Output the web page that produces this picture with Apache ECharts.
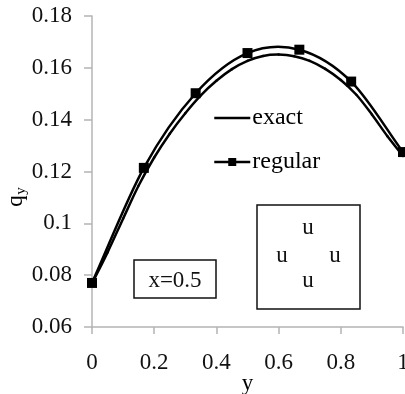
<!DOCTYPE html>
<html>
<head>
<meta charset="utf-8">
<script src="https://cdn.jsdelivr.net/npm/echarts@6/dist/echarts.min.js"></script>
<style>
  html, body { margin: 0; padding: 0; background: #fff; }
  #chart { width: 405px; height: 394px; }
</style>
</head>
<body>
<div id="chart"></div>
<script>
// Position along the line (y) and flux q_y for the exact solution
const exactY = [0, 0.05, 0.1, 0.15, 0.2, 0.25, 0.3, 0.35, 0.4, 0.45, 0.5,
                0.55, 0.6, 0.65, 0.7, 0.75, 0.8, 0.85, 0.9, 0.95, 1];
const exactQ = [0.0768, 0.0888, 0.1018, 0.1146, 0.1254, 0.1346, 0.1425, 0.1494,
                0.1550, 0.1595, 0.1627, 0.1646, 0.1651, 0.1645, 0.1627, 0.1596,
                0.1553, 0.1496, 0.1420, 0.1336, 0.1260];

// Regular grid nodes
const regularY = [0, 0.1667, 0.3333, 0.5, 0.6667, 0.8333, 1];
const regularQ = [0.0770, 0.1214, 0.1502, 0.1657, 0.1670, 0.1547, 0.1275];

const xTicks = [0, 0.2, 0.4, 0.6, 0.8, 1];
const yTicks = [0.06, 0.08, 0.1, 0.12, 0.14, 0.16, 0.18];

const seriesNames = ['exact', 'regular'];
const caseLabel = 'x=0.5';
const stencilLetter = 'u';

const FONT = '"Liberation Serif", "DejaVu Serif", serif';
const AXIS_GRAY = '#b4b4b4';
const LINE_W = 2.5;

const zip = (xs, ys) => xs.map((x, i) => [x, ys[i]]);
const fmt = v => String(parseFloat(v.toFixed(2)));

// Cardinal spline through the nodes; each data item draws the segment to the next node.
// End tangents use a reflected phantom node so the ends run straight.
function splineSegment(xs, ys) {
  return function (params, api) {
    const i = params.dataIndex;
    const n = xs.length;
    if (i >= n - 1) return null;
    const node = k => api.coord([xs[k], ys[k]]);
    const p = k => {
      if (k < 0) { const a = node(0), b = node(1); return [2 * a[0] - b[0], 2 * a[1] - b[1]]; }
      if (k > n - 1) { const a = node(n - 1), b = node(n - 2); return [2 * a[0] - b[0], 2 * a[1] - b[1]]; }
      return node(k);
    };
    const p0 = p(i - 1), p1 = p(i), p2 = p(i + 1), p3 = p(i + 2);
    return {
      type: 'bezierCurve',
      shape: {
        x1: p1[0], y1: p1[1], x2: p2[0], y2: p2[1],
        cpx1: p1[0] + (p2[0] - p0[0]) / 6, cpy1: p1[1] + (p2[1] - p0[1]) / 6,
        cpx2: p2[0] - (p3[0] - p1[0]) / 6, cpy2: p2[1] - (p3[1] - p1[1]) / 6
      },
      style: { stroke: '#000', lineWidth: LINE_W, fill: null, lineCap: 'round' }
    };
  };
}

const chart = echarts.init(document.getElementById('chart'), null, { renderer: 'canvas' });

const letter = (x, y) => ({
  type: 'text', x: x, y: y, z: 11,
  style: { text: stencilLetter, font: '23px ' + FONT, fill: '#111', align: 'center', verticalAlign: 'middle' }
});

chart.setOption({
  animation: false,
  backgroundColor: '#fff',
  grid: { left: 92, right: 2, top: 16, bottom: 67, containLabel: false, outerBoundsMode: 'none' },
  xAxis: {
    type: 'value',
    min: xTicks[0],
    max: xTicks[xTicks.length - 1],
    interval: 0.2,
    name: 'y',
    nameLocation: 'middle',
    nameGap: 45,
    nameMoveOverlap: false,
    nameTextStyle: { fontFamily: FONT, fontSize: 23, color: '#000' },
    axisLine: { show: true, lineStyle: { color: AXIS_GRAY, width: 1.5 } },
    axisTick: { show: true, inside: false, length: 7, lineStyle: { color: AXIS_GRAY, width: 1.5 } },
    axisLabel: { margin: 24, fontFamily: FONT, fontSize: 23, color: '#111', formatter: fmt },
    splitLine: { show: false }
  },
  yAxis: {
    type: 'value',
    min: yTicks[0],
    max: yTicks[yTicks.length - 1],
    interval: 0.02,
    axisLine: { show: true, lineStyle: { color: AXIS_GRAY, width: 1.5 } },
    axisTick: { show: true, inside: false, length: 8, lineStyle: { color: AXIS_GRAY, width: 1.5 } },
    axisLabel: { margin: 20, fontFamily: FONT, fontSize: 23, color: '#111', formatter: fmt },
    splitLine: { show: false }
  },
  legend: {
    orient: 'vertical',
    left: 213,
    top: 106,
    padding: 0,
    itemGap: 20,
    itemWidth: 36,
    itemHeight: 10,
    textStyle: { fontFamily: FONT, fontSize: 24, color: '#000', padding: [0, 0, 0, -3] },
    data: [
      { name: seriesNames[0], itemStyle: { color: 'rgba(0,0,0,0)', opacity: 0 },
        lineStyle: { color: '#000', width: LINE_W, opacity: 1 } },
      { name: seriesNames[1], lineStyle: { color: '#000', width: LINE_W, opacity: 1 } }
    ]
  },
  series: [
    // exact solution: legend entry + curve
    {
      name: seriesNames[0],
      type: 'line',
      data: zip(exactY, exactQ),
      symbol: 'none',
      lineStyle: { opacity: 0 },
      itemStyle: { color: '#000' },
      z: 1
    },
    {
      type: 'custom',
      data: zip(exactY, exactQ),
      encode: { x: 0, y: 1 },
      renderItem: splineSegment(exactY, exactQ),
      z: 2
    },
    // regular grid: markers + legend entry, curve drawn as spline
    {
      name: seriesNames[1],
      type: 'line',
      data: zip(regularY, regularQ),
      symbol: 'rect',
      symbolSize: 10,
      showAllSymbol: true,
      lineStyle: { opacity: 0 },
      itemStyle: { color: '#000' },
      z: 4
    },
    {
      type: 'custom',
      data: zip(regularY, regularQ),
      encode: { x: 0, y: 1 },
      renderItem: splineSegment(regularY, regularQ),
      z: 3
    }
  ],
  graphic: [
    // rotated y-axis title q_y
    {
      type: 'group',
      x: 16,
      y: 197,
      rotation: Math.PI / 2,
      children: [
        { type: 'text', x: -4, y: 0,
          style: { text: 'q', font: '23px ' + FONT, fill: '#000', align: 'center', verticalAlign: 'middle' } },
        { type: 'text', x: 6, y: 5,
          style: { text: 'y', font: '15px ' + FONT, fill: '#000', align: 'center', verticalAlign: 'middle' } }
      ]
    },
    // case label box
    {
      type: 'rect',
      shape: { x: 134, y: 260, width: 82, height: 38 },
      style: { fill: '#fff', stroke: '#111', lineWidth: 1.5 },
      z: 10
    },
    {
      type: 'text',
      x: 175, y: 281,
      style: { text: caseLabel, font: '23px ' + FONT, fill: '#111', align: 'center', verticalAlign: 'middle' },
      z: 11
    },
    // stencil box
    {
      type: 'rect',
      shape: { x: 257, y: 205, width: 103, height: 104 },
      style: { fill: '#fff', stroke: '#111', lineWidth: 1.5 },
      z: 10
    },
    letter(308, 228),
    letter(282, 256),
    letter(335, 256),
    letter(308, 281)
  ]
});
</script>
</body>
</html>
